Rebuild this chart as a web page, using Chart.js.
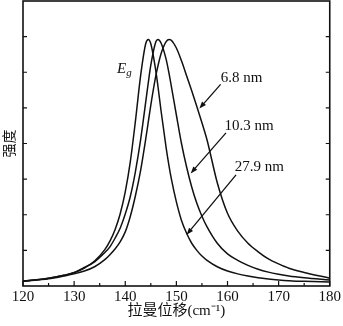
<!DOCTYPE html>
<html>
<head>
<meta charset="utf-8">
<script src="https://cdn.jsdelivr.net/npm/chart.js@4.4.1/dist/chart.umd.min.js"></script>
<style>
  html, body { margin: 0; padding: 0; background: #fff; }
</style>
</head>
<body>
<canvas id="raman-chart" width="343" height="326"></canvas>
<script>
// Raman shift (cm^-1) sample points shared by the three spectra
const shiftX = [120, 125, 128, 130, 132, 134, 136, 137, 138, 139, 140, 141, 142, 143, 144, 144.5,
                145, 146, 146.4, 147, 148, 148.6, 149, 150, 151, 152, 153, 154, 155, 156, 158,
                160, 162, 164, 166, 168, 170, 172, 175, 180];

// intensity, 27.9 nm particles (narrowest peak)
const int279 = [0.07, 0.11, 0.15, 0.185, 0.25, 0.35, 0.51, 0.63, 0.79, 1.01, 1.32, 1.75, 2.32, 2.95, 3.40, 3.46,
                3.40, 3.01, 2.80, 2.46, 1.94, 1.67, 1.51, 1.18, 0.92, 0.74, 0.60, 0.50, 0.42, 0.36, 0.27,
                0.21, 0.17, 0.14, 0.115, 0.098, 0.085, 0.075, 0.065, 0.055];

// intensity, 10.3 nm particles
const int103 = [0.07, 0.11, 0.15, 0.19, 0.26, 0.34, 0.47, 0.55, 0.67, 0.81, 1.01, 1.26, 1.61, 2.05, 2.58, 2.85,
                3.10, 3.43, 3.46, 3.41, 3.18, 2.97, 2.81, 2.40, 2.00, 1.67, 1.39, 1.16, 0.98, 0.83, 0.60,
                0.45, 0.36, 0.29, 0.235, 0.195, 0.165, 0.14, 0.115, 0.085];

// intensity, 6.8 nm particles (broadest, most shifted)
const int68 = [0.065, 0.10, 0.14, 0.17, 0.21, 0.27, 0.37, 0.44, 0.52, 0.62, 0.76, 0.98, 1.27, 1.62, 2.06, 2.30,
               2.54, 2.96, 3.09, 3.26, 3.43, 3.46, 3.45, 3.34, 3.16, 2.95, 2.74, 2.52, 2.29, 2.05, 1.45,
               1.02, 0.77, 0.60, 0.48, 0.38, 0.31, 0.25, 0.19, 0.11];

const seriesNames = ['27.9 nm', '10.3 nm', '6.8 nm'];
const xTicks = [120, 130, 140, 150, 160, 170, 180];
const xMinorTicks = [125, 135, 145, 155, 165, 175];
const yTickMarks = [0.5, 1, 1.5, 2, 2.5, 3, 3.5];

const ink = '#111';
const serif = "'Liberation Serif', 'Times New Roman', 'Noto Sans CJK SC', serif";

// size labels with arrows pointing at their curves (data coordinates)
const notes = [
  { text: '6.8 nm',  at: [158.7, 2.86], from: [158.65, 2.83], to: [154.5, 2.49] },
  { text: '10.3 nm', at: [159.4, 2.19], from: [159.7, 2.15],  to: [152.8, 1.58] },
  { text: '27.9 nm', at: [161.4, 1.61], from: [161.67, 1.56], to: [152.0, 0.72] }
];

function toPoints(ys) {
  return shiftX.map((x, i) => ({ x: x, y: ys[i] }));
}

function drawArrow(ctx, x0, y0, x1, y1) {
  const ang = Math.atan2(y1 - y0, x1 - x0);
  const head = 7, half = 2.6;
  ctx.beginPath();
  ctx.moveTo(x0, y0);
  ctx.lineTo(x1 - Math.cos(ang) * head * 0.8, y1 - Math.sin(ang) * head * 0.8);
  ctx.stroke();
  ctx.beginPath();
  ctx.moveTo(x1, y1);
  ctx.lineTo(x1 - Math.cos(ang) * head - Math.sin(ang) * half, y1 - Math.sin(ang) * head + Math.cos(ang) * half);
  ctx.lineTo(x1 - Math.cos(ang) * head + Math.sin(ang) * half, y1 - Math.sin(ang) * head - Math.cos(ang) * half);
  ctx.closePath();
  ctx.fill();
}

// box frame, inward tick marks and the text labels
const frameAndNotes = {
  id: 'frameAndNotes',
  afterDatasetsDraw(chart) {
    const { ctx, chartArea: a, scales: { x, y } } = chart;
    ctx.save();
    ctx.strokeStyle = ink;
    ctx.fillStyle = ink;

    ctx.lineWidth = 1.2;
    ctx.beginPath();
    xTicks.forEach(v => {
      const px = x.getPixelForValue(v);
      ctx.moveTo(px, a.bottom);
      ctx.lineTo(px, a.bottom - 5);
    });
    xMinorTicks.forEach(v => {
      const px = x.getPixelForValue(v);
      ctx.moveTo(px, a.bottom);
      ctx.lineTo(px, a.bottom - 3);
    });
    yTickMarks.forEach(v => {
      const py = y.getPixelForValue(v);
      ctx.moveTo(a.left, py);
      ctx.lineTo(a.left + 4, py);
      ctx.moveTo(a.right, py);
      ctx.lineTo(a.right - 4, py);
    });
    ctx.stroke();

    ctx.lineWidth = 1.6;
    ctx.strokeRect(a.left, a.top, a.right - a.left, a.bottom - a.top);

    ctx.lineWidth = 1.3;
    ctx.font = '15px ' + serif;
    ctx.textBaseline = 'alphabetic';
    notes.forEach(n => {
      ctx.fillText(n.text, x.getPixelForValue(n.at[0]), y.getPixelForValue(n.at[1]));
      drawArrow(ctx,
        x.getPixelForValue(n.from[0]), y.getPixelForValue(n.from[1]),
        x.getPixelForValue(n.to[0]), y.getPixelForValue(n.to[1]));
    });

    // E_g mode label
    const ex = x.getPixelForValue(138.4), ey = y.getPixelForValue(2.99);
    ctx.font = 'italic 15px ' + serif;
    ctx.fillText('E', ex, ey);
    const ew = ctx.measureText('E').width;
    ctx.font = 'italic 11px ' + serif;
    ctx.fillText('g', ex + ew, ey + 3);
    ctx.restore();
  }
};

const lineStyle = {
  borderColor: ink,
  borderWidth: 1.5,
  pointRadius: 0,
  fill: false,
  cubicInterpolationMode: 'monotone'
};

new Chart(document.getElementById('raman-chart').getContext('2d'), {
  type: 'line',
  data: {
    datasets: [
      Object.assign({ label: seriesNames[0], data: toPoints(int279) }, lineStyle),
      Object.assign({ label: seriesNames[1], data: toPoints(int103) }, lineStyle),
      Object.assign({ label: seriesNames[2], data: toPoints(int68) }, lineStyle)
    ]
  },
  options: {
    responsive: false,
    animation: false,
    layout: { padding: { top: 1, right: 10, left: 0, bottom: 0 } },
    plugins: {
      legend: { display: false },
      tooltip: { enabled: false }
    },
    scales: {
      x: {
        type: 'linear',
        min: 120,
        max: 180,
        afterBuildTicks: s => { s.ticks = xTicks.map(v => ({ value: v })); },
        ticks: { color: ink, font: { family: serif, size: 15 }, padding: 2, maxRotation: 0, autoSkip: false },
        grid: { display: false, drawTicks: false },
        border: { display: false },
        title: {
          display: true,
          text: '拉曼位移(cm⁻¹)',
          color: ink,
          font: { family: serif, size: 15 },
          padding: { top: 0, bottom: 6 }
        },
        afterFit: s => { s.height = 40; }
      },
      y: {
        type: 'linear',
        min: 0,
        max: 4,
        ticks: { display: false },
        grid: { display: false, drawTicks: false },
        border: { display: false },
        title: {
          display: true,
          text: '强度',
          color: ink,
          font: { family: serif, size: 14 },
          padding: { top: 2, bottom: 0 }
        },
        afterFit: s => { s.width = 23; }
      }
    }
  },
  plugins: [frameAndNotes]
});
</script>
</body>
</html>
